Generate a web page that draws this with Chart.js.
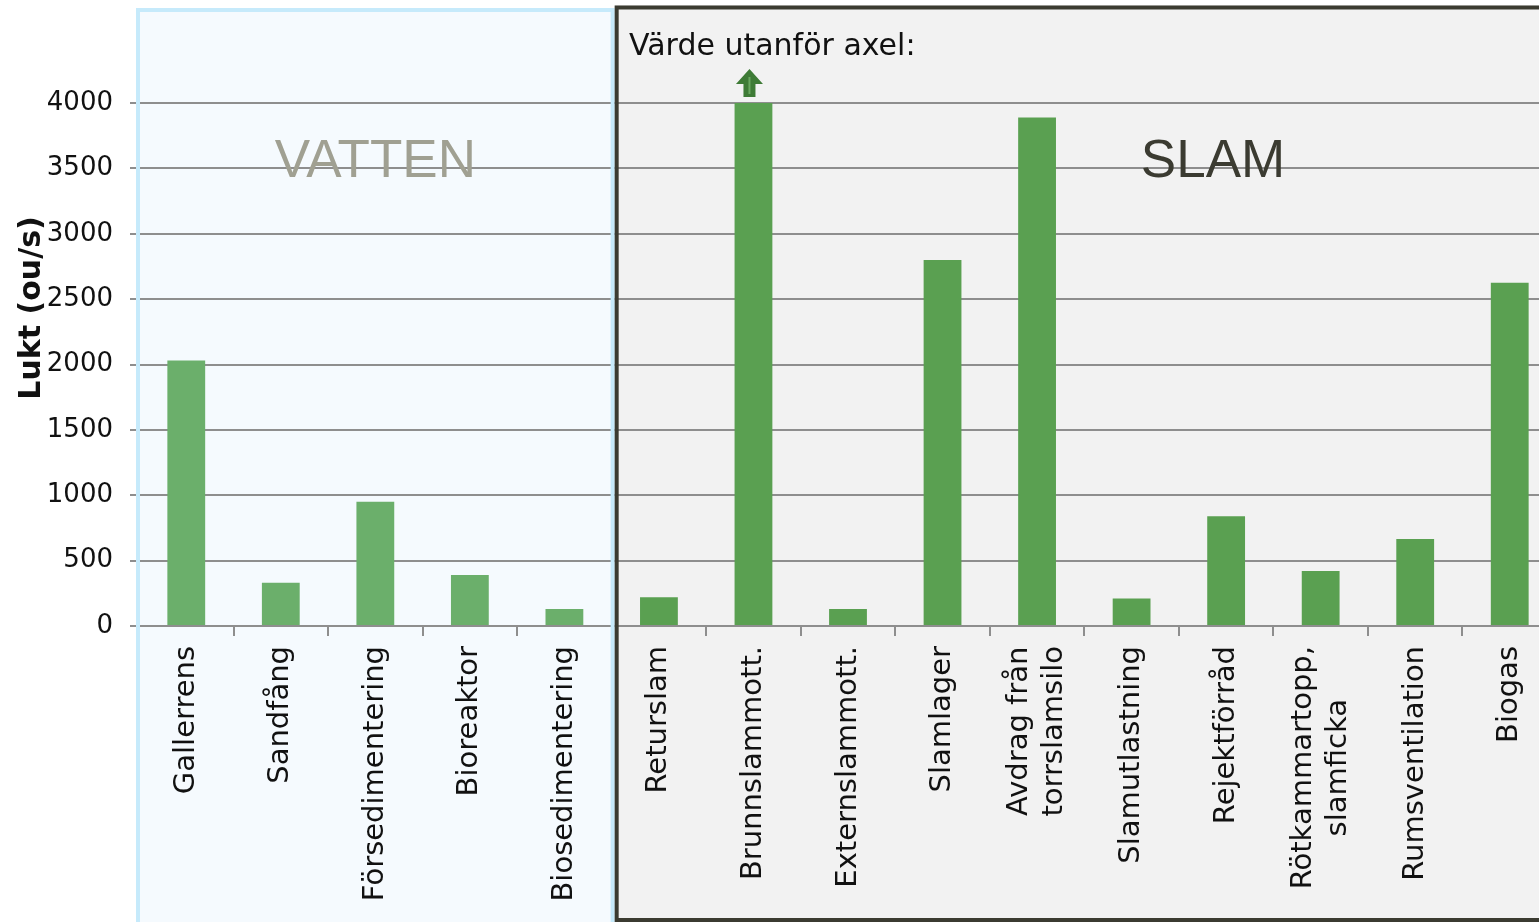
<!DOCTYPE html>
<html lang="sv">
<head>
<meta charset="utf-8">
<title>Lukt (ou/s)</title>
<script src="https://cdn.jsdelivr.net/npm/chart.js@4.4.1/dist/chart.umd.min.js"></script>
<style>
    html, body { margin: 0; padding: 0; background: #fff; overflow: hidden; }
    canvas { display: block; }
</style>
</head>
<body>
<canvas id="luktChart" width="1557" height="922"></canvas>
<script>
// Kategorier (de fem första hör till VATTEN, resten till SLAM)
const categories = [
    'Gallerrens', 'Sandfång', 'Försedimentering', 'Bioreaktor', 'Biosedimentering',
    'Returslam', 'Brunnslammott.', 'Externslammott.', 'Slamlager',
    ['Avdrag från', 'torrslamsilo'], 'Slamutlastning', 'Rejektförråd',
    ['Rötkammartopp,', 'slamficka'], 'Rumsventilation', 'Biogas'
];
// Brunnslammott. ligger utanför axeln, klipps vid 4000
const luktValues = [2030, 330, 950, 390, 130, 220, 4000, 130, 2800, 3890, 210, 840, 420, 665, 2625];
const vattenCount = 5;
const groupNames = ['VATTEN', 'SLAM'];
const yMin = 0;
const yMax = 4000;
const yStep = 500;
const outsideIndex = 6;
const outsideNote = 'Värde utanför axel:';
const yTitle = 'Lukt (ou/s)';

const vattenColor = '#6baf6b';
const slamColor = '#5aa051';
const gridColor = '#8e8e8e';

const decorPlugin = {
    id: 'decor',
    beforeDraw(chart) {
        const { ctx, chartArea, scales: { x } } = chart;
        const split = x.getPixelForValue(vattenCount - 0.5);
        ctx.save();
        ctx.fillStyle = '#f5fafe';
        ctx.fillRect(chartArea.left - 3, 8, split + 6 - chartArea.left, chart.height);
        ctx.fillStyle = '#f2f2f2';
        ctx.fillRect(split + 3, 5, chart.width, chart.height);
        ctx.restore();
    },
    afterDatasetsDraw(chart) {
        const { ctx, chartArea, scales: { x } } = chart;
        const split = x.getPixelForValue(vattenCount - 0.5);
        ctx.save();

        // ramar
        ctx.lineWidth = 4;
        ctx.strokeStyle = '#c6eafb';
        ctx.strokeRect(chartArea.left - 1, 10, split + 2 - chartArea.left, chart.height + 20);
        ctx.strokeStyle = '#3b3b31';
        ctx.strokeRect(split + 5, 7.5, chart.width + 20, 912.5);

        // gruppnamn
        ctx.font = '53px "Liberation Sans", Arial, sans-serif';
        ctx.textAlign = 'center';
        ctx.textBaseline = 'alphabetic';
        ctx.fillStyle = '#a0a092';
        ctx.fillText(groupNames[0], (chartArea.left + split) / 2, 177);
        ctx.fillStyle = '#3b3b31';
        ctx.fillText(groupNames[1], 1213, 177);

        // notis + pil
        ctx.font = '30px "DejaVu Sans", sans-serif';
        ctx.textAlign = 'left';
        ctx.fillStyle = '#111';
        ctx.fillText(outsideNote, 629, 55);

        const ax = x.getPixelForValue(outsideIndex) - 4;
        const top = chartArea.top;
        ctx.fillStyle = '#3e7b36';
        ctx.beginPath();
        ctx.moveTo(ax, top - 34);
        ctx.lineTo(ax + 13.5, top - 19);
        ctx.lineTo(ax + 6, top - 19);
        ctx.lineTo(ax + 6, top - 6);
        ctx.lineTo(ax - 6, top - 6);
        ctx.lineTo(ax - 6, top - 19);
        ctx.lineTo(ax - 13.5, top - 19);
        ctx.closePath();
        ctx.fill();
        ctx.fillStyle = '#6aa860';
        ctx.fillRect(ax - 1, top - 26, 2, 17);

        // x-etiketter
        ctx.font = '29px "DejaVu Sans", sans-serif';
        ctx.fillStyle = '#111';
        ctx.textAlign = 'center';
        ctx.textBaseline = 'middle';
        categories.forEach((lab, i) => {
            const lines = Array.isArray(lab) ? lab : [lab];
            const px = x.getPixelForValue(i);
            const maxW = Math.max(...lines.map(l => ctx.measureText(l).width));
            lines.forEach((line, j) => {
                ctx.save();
                ctx.translate(px + (j - (lines.length - 1) / 2) * 35, chartArea.bottom + 20 + maxW / 2);
                ctx.rotate(-Math.PI / 2);
                ctx.fillText(line, 0, 0);
                ctx.restore();
            });
        });

        // y-titel
        ctx.font = 'bold 30px "DejaVu Sans", sans-serif';
        ctx.translate(32, 308);
        ctx.rotate(-Math.PI / 2);
        ctx.fillText(yTitle, 0, 0);
        ctx.restore();
    }
};

const ctx = document.getElementById('luktChart').getContext('2d');
new Chart(ctx, {
    type: 'bar',
    data: {
        labels: categories,
        datasets: [{
            label: yTitle,
            data: luktValues,
            backgroundColor: luktValues.map((v, i) => i < vattenCount ? vattenColor : slamColor),
            borderWidth: 0,
            barPercentage: 0.4,
            categoryPercentage: 1
        }]
    },
    options: {
        responsive: false,
        animation: false,
        devicePixelRatio: 1,
        layout: { padding: { top: 103, left: 0, right: 0, bottom: 0 } },
        plugins: {
            legend: { display: false },
            tooltip: { enabled: false }
        },
        scales: {
            x: {
                offset: true,
                ticks: { display: false },
                grid: {
                    offset: true,
                    drawOnChartArea: false,
                    color: gridColor,
                    lineWidth: 2,
                    tickLength: 10
                },
                border: { display: false },
                afterFit: s => { s.height = 296; }
            },
            y: {
                min: yMin,
                max: yMax,
                ticks: {
                    stepSize: yStep,
                    padding: 17,
                    color: '#111',
                    font: { family: '"DejaVu Sans", sans-serif', size: 26 },
                    callback: v => String(v)
                },
                grid: { color: gridColor, lineWidth: 2, tickLength: 9 },
                border: { display: false },
                afterFit: s => { s.width = 139; }
            }
        }
    },
    plugins: [decorPlugin]
});
</script>
</body>
</html>
